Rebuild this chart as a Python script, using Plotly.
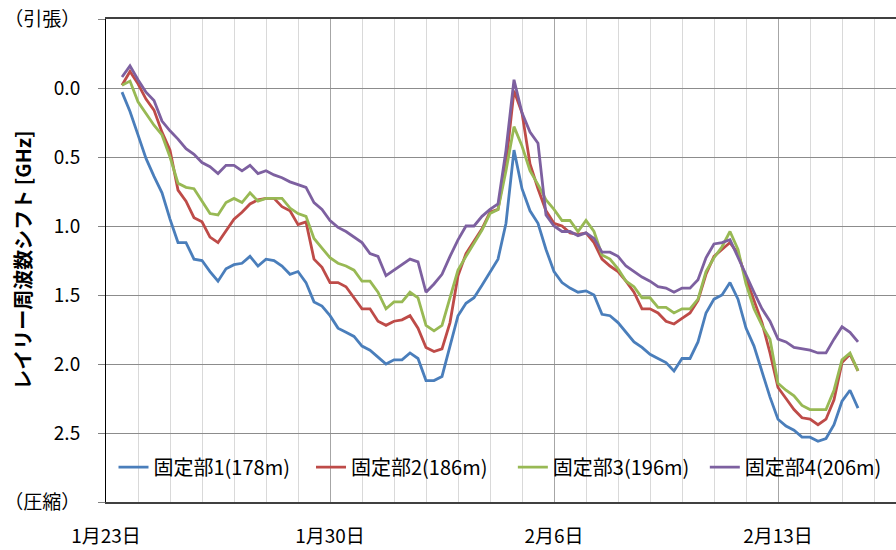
import pandas as pd
import plotly.graph_objects as go

# sampling: every 6 hours starting 2014-01-23 12:00
start_time = "2014-01-23 12:00"
step = "6h"

names = ["固定部1(178m)", "固定部2(186m)", "固定部3(196m)", "固定部4(206m)"]
colors = ["#4A7EBB", "#BE4B48", "#98B954", "#7D60A0"]

s1 = [0.03, 0.17, 0.34, 0.51, 0.64, 0.76, 0.95, 1.12, 1.12, 1.24, 1.25, 1.33, 1.40, 1.31, 1.28, 1.27, 1.22, 1.29, 1.24, 1.25, 1.29, 1.35, 1.33, 1.41,
      1.55, 1.58, 1.65, 1.74, 1.77, 1.80, 1.87, 1.90, 1.95, 2.00, 1.97, 1.97, 1.92, 1.96, 2.12, 2.12, 2.09, 1.87, 1.65, 1.56, 1.52, 1.43, 1.33, 1.24,
      0.98, 0.45, 0.73, 0.89, 0.98, 1.17, 1.33, 1.41, 1.45, 1.48, 1.47, 1.50, 1.64, 1.65, 1.70, 1.77, 1.84, 1.88, 1.93, 1.96, 1.99, 2.05,
      1.96, 1.96, 1.84, 1.63, 1.53, 1.50, 1.41, 1.53, 1.74, 1.87, 2.06, 2.24, 2.40, 2.45, 2.48, 2.53, 2.53, 2.56, 2.54, 2.44, 2.27, 2.19, 2.32]
s2 = [-0.02, -0.12, -0.03, 0.08, 0.16, 0.32, 0.45, 0.74, 0.82, 0.94, 0.97, 1.08, 1.12, 1.03, 0.95, 0.90, 0.84, 0.81, 0.80, 0.80, 0.86, 0.89, 0.99, 0.97,
      1.24, 1.30, 1.41, 1.41, 1.44, 1.52, 1.60, 1.60, 1.69, 1.72, 1.69, 1.68, 1.65, 1.74, 1.88, 1.91, 1.89, 1.70, 1.36, 1.20, 1.11, 1.02, 0.90, 0.88,
      0.55, 0.02, 0.18, 0.55, 0.73, 0.89, 0.98, 1.00, 1.05, 1.06, 1.05, 1.12, 1.24, 1.29, 1.33, 1.40, 1.48, 1.60, 1.60, 1.63, 1.69, 1.71,
      1.67, 1.63, 1.54, 1.35, 1.22, 1.17, 1.12, 1.20, 1.38, 1.54, 1.70, 1.92, 2.17, 2.25, 2.33, 2.39, 2.40, 2.44, 2.40, 2.26, 1.99, 1.93, 2.05]
s3 = [-0.02, -0.05, 0.10, 0.19, 0.27, 0.34, 0.50, 0.69, 0.72, 0.73, 0.82, 0.91, 0.92, 0.83, 0.80, 0.83, 0.76, 0.82, 0.80, 0.80, 0.80, 0.87, 0.91, 0.93,
      1.09, 1.16, 1.23, 1.27, 1.29, 1.32, 1.40, 1.40, 1.48, 1.60, 1.55, 1.55, 1.48, 1.52, 1.72, 1.76, 1.72, 1.52, 1.32, 1.22, 1.13, 1.03, 0.91, 0.88,
      0.60, 0.28, 0.42, 0.60, 0.70, 0.81, 0.88, 0.96, 0.96, 1.04, 0.96, 1.04, 1.21, 1.24, 1.31, 1.40, 1.44, 1.52, 1.52, 1.59, 1.59, 1.63,
      1.60, 1.60, 1.53, 1.33, 1.23, 1.15, 1.04, 1.17, 1.42, 1.60, 1.72, 1.82, 2.14, 2.19, 2.23, 2.30, 2.33, 2.33, 2.33, 2.19, 1.97, 1.92, 2.05]
s4 = [-0.08, -0.16, -0.06, 0.03, 0.09, 0.24, 0.31, 0.37, 0.44, 0.48, 0.54, 0.57, 0.62, 0.56, 0.56, 0.60, 0.56, 0.62, 0.60, 0.63, 0.65, 0.68, 0.70, 0.72,
      0.83, 0.88, 0.96, 1.01, 1.04, 1.08, 1.12, 1.20, 1.22, 1.36, 1.32, 1.28, 1.24, 1.26, 1.48, 1.42, 1.35, 1.22, 1.10, 1.00, 1.00, 0.93, 0.88, 0.84,
      0.45, -0.06, 0.18, 0.32, 0.40, 0.92, 1.00, 1.04, 1.04, 1.07, 1.05, 1.09, 1.19, 1.19, 1.22, 1.29, 1.33, 1.37, 1.40, 1.44, 1.45, 1.48,
      1.45, 1.45, 1.39, 1.23, 1.13, 1.12, 1.10, 1.23, 1.36, 1.48, 1.60, 1.69, 1.82, 1.84, 1.88, 1.89, 1.90, 1.92, 1.92, 1.82, 1.73, 1.77, 1.84]

y_tickvals = [-0.5, 0.0, 0.5, 1.0, 1.5, 2.0, 2.5, 3.0]
y_ticktext = ["（引張）", "0.0", "0.5", "1.0", "1.5", "2.0", "2.5", "（圧縮）"]
y_title = "レイリー周波数シフト [GHz]"

series = [s1, s2, s3, s4]
times = pd.date_range(start_time, periods=len(s1), freq=step)

legend_ids = ["legend", "legend2", "legend3", "legend4"]
legend_x = [0.0095, 0.2595, 0.515, 0.758]

fig = go.Figure()
for name, col, vals, lid in zip(names, colors, series, legend_ids):
    fig.add_trace(go.Scatter(x=times, y=vals, mode="lines", name=name, legend=lid,
                             showlegend=True, line=dict(color=col, width=2.8)))

legend_common = dict(orientation="h", y=0.072, xanchor="left", yanchor="middle",
                     bgcolor="rgba(0,0,0,0)", font=dict(size=20), itemwidth=30)
legend_layout = {lid: dict(x=lx, **legend_common) for lid, lx in zip(legend_ids, legend_x)}

DAY = 86400000
fig.update_layout(
    width=896, height=550,
    margin=dict(l=106, r=0, t=19, b=48),
    showlegend=True,
    plot_bgcolor="white", paper_bgcolor="white",
    font=dict(family="Noto Sans CJK JP", size=19, color="#000000"),
    xaxis=dict(type="date", range=["2014-01-23 00:00", "2014-02-16 16:30"],
               tickmode="linear", tick0="2014-01-23", dtick=7 * DAY,
               tickformat="%-m月%-d日", showgrid=True, gridcolor="#A6A6A6", gridwidth=1,
               minor=dict(tick0="2014-01-23", dtick=DAY, showgrid=True,
                          gridcolor="#D9D9D9", gridwidth=1),
               showline=True, linecolor="#404040", linewidth=2, mirror=True,
               ticks="", ticklabelstandoff=16, zeroline=False, automargin=False),
    yaxis=dict(range=[3.0, -0.5], tickmode="array", tickvals=y_tickvals, ticktext=y_ticktext,
               showgrid=True, gridcolor="#8C8C8C", gridwidth=1,
               showline=True, linecolor="#000000", linewidth=1,
               ticks="outside", ticklen=7, tickcolor="#808080",
               ticklabelstandoff=14, zeroline=False, automargin=False),
    annotations=[dict(text="<b>" + y_title + "</b>", xref="paper", yref="paper",
                      x=-0.106, y=0.5, xanchor="center", yanchor="middle",
                      textangle=-90, showarrow=False, font=dict(size=20))],
    **legend_layout,
)

fig.write_html("out.html", post_script="document.body.style.margin='0';",
               config={"displayModeBar": False})
